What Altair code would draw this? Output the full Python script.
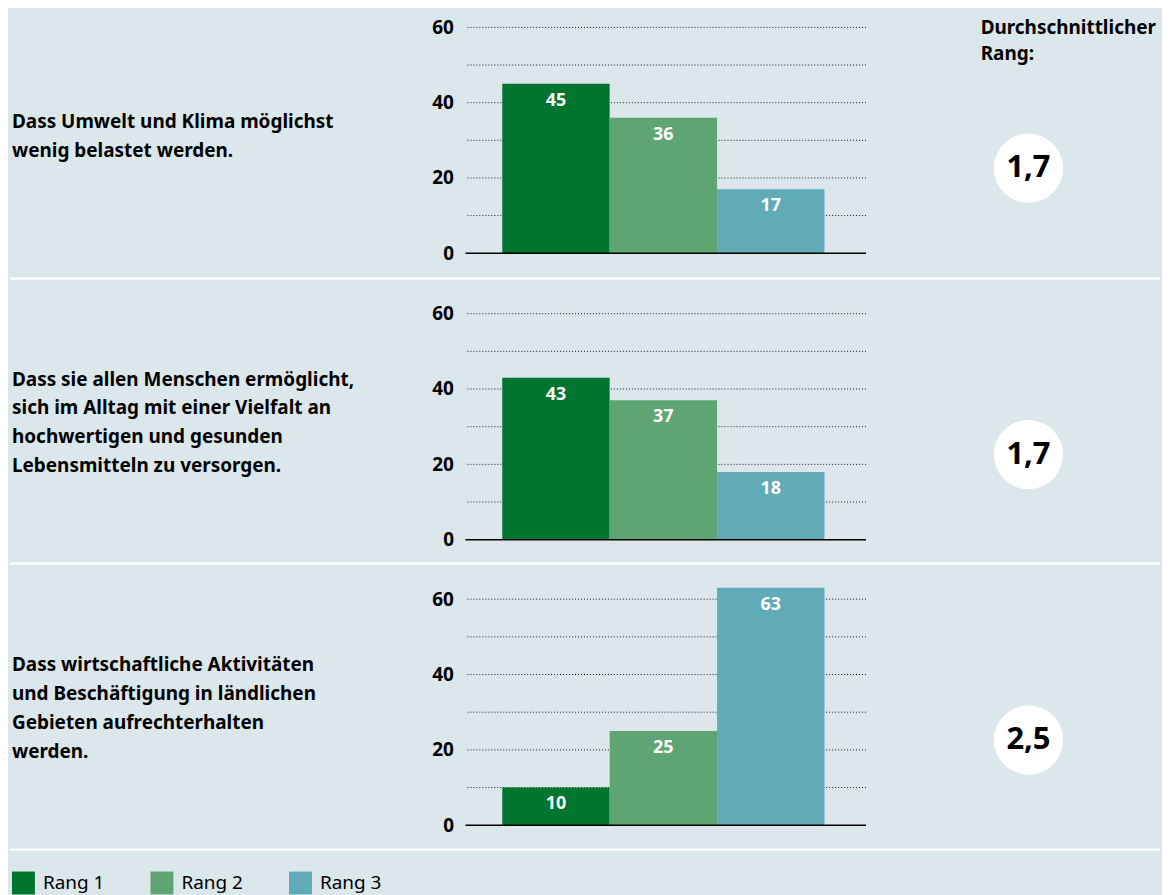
import altair as alt
import pandas as pd

ranks = ["Rang 1", "Rang 2", "Rang 3"]
rank_colors = ["#00752f", "#5fa574", "#61aab8"]
questions = [
    ["Dass Umwelt und Klima möglichst", "wenig belastet werden."],
    ["Dass sie allen Menschen ermöglicht,", "sich im Alltag mit einer Vielfalt an",
     "hochwertigen und gesunden", "Lebensmitteln zu versorgen."],
    ["Dass wirtschaftliche Aktivitäten", "und Beschäftigung in ländlichen",
     "Gebieten aufrechterhalten", "werden."],
]
values_q1 = [45, 36, 17]
values_q2 = [43, 37, 18]
values_q3 = [10, 25, 63]
avg_rank = ["1,7", "1,7", "2,5"]
header = ["Durchschnittlicher", "Rang:"]
y_labels = [0, 20, 40, 60]
grid_values = [10, 20, 30, 40, 50, 60]

BG = "#dbe7ea"
FONT = "Noto Sans"
PLOT_W = 402
PX_PER_UNIT = 3.78
LINE_H = 29

legend = alt.Legend(
    orient="none", legendX=-455, legendY=865, direction="horizontal", title=None,
    symbolType="square", symbolSize=529, symbolStrokeWidth=0, symbolOpacity=1,
    labelFontSize=19, labelOffset=8, columnPadding=46, labelColor="black",
    labelFont=FONT,
)

yaxis = alt.Axis(
    values=y_labels, title=None, ticks=False, domain=False, grid=False,
    labelFontSize=19, labelFontWeight="bold", labelColor="black",
    labelPadding=12, labelFont=FONT,
)


def row(i, vals, height, domain, with_header=False):
    df = pd.DataFrame({"rank": ranks, "value": vals})
    yscale = alt.Scale(domain=domain, nice=False, zero=False)
    xenc = alt.X("rank:N", scale=alt.Scale(domain=ranks, paddingInner=0, paddingOuter=0.365, align=0.47),
                 axis=None)

    def yf(field):
        return alt.Y(field, type="quantitative", scale=yscale, axis=yaxis, title=None)

    grid = alt.Chart(pd.DataFrame({"g": grid_values})).mark_rule(
        color="#1a1a1a", strokeWidth=1, strokeDash=[1, 2]
    ).encode(y=yf("g"))

    bars = alt.Chart(df).mark_bar().encode(
        x=xenc,
        y=yf("value"),
        y2=alt.Y2("base:Q"),
        color=alt.Color("rank:N", scale=alt.Scale(domain=ranks, range=rank_colors), legend=legend),
    ).transform_calculate(base="0")

    zero = alt.Chart(pd.DataFrame({"z": [0]})).mark_rule(color="black", strokeWidth=1.5).encode(
        y=yf("z")
    )

    labels = alt.Chart(df).mark_text(
        color="white", fontWeight="bold", fontSize=18, baseline="middle", dy=17, font=FONT
    ).encode(x=xenc, y=yf("value"), text="value:Q")

    n_lines = len(questions[i])
    q_y = 31 + (n_lines - 1) / 2 * LINE_H / PX_PER_UNIT
    question = alt.Chart(pd.DataFrame({"qy": [q_y]})).mark_text(
        align="left", baseline="middle", fontSize=19, fontWeight="bold", lineHeight=LINE_H,
        color="black", font=FONT
    ).encode(x=alt.value(-455), y=yf("qy"), text=alt.value(questions[i]))

    circ_df = pd.DataFrame({"cy": [22.6], "label": [avg_rank[i]]})
    circle = alt.Chart(circ_df).mark_circle(color="white", opacity=1, size=4840).encode(
        x=alt.value(565), y=yf("cy")
    )
    circle_text = alt.Chart(circ_df).mark_text(
        fontSize=31, fontWeight="bold", color="black", baseline="middle", font=FONT
    ).encode(x=alt.value(565), y=yf("cy"), text="label:N")

    sep = alt.Chart(pd.DataFrame({"k": [0]})).mark_rule(color="white", strokeWidth=2.5).encode(
        x=alt.value(-457), x2=alt.value(697), y=alt.value(height)
    )

    layers = [grid, bars, zero, labels, question, circle, circle_text, sep]
    if with_header:
        head = alt.Chart(pd.DataFrame({"hy": [59.9]})).mark_text(
            align="left", baseline="middle", fontSize=19, fontWeight="bold", lineHeight=26,
            color="black", font=FONT
        ).encode(x=alt.value(517), y=yf("hy"), text=alt.value(header))
        layers.append(head)
    return alt.layer(*layers).properties(width=PLOT_W, height=height)


r1 = row(0, values_q1, 270, [-6.75, 64.75], with_header=True)
r2 = row(1, values_q2, 286, [-6.35, 69.31])
r3 = row(2, values_q3, 287, [-6.48, 69.44])

chart = alt.vconcat(r1, r2, r3, spacing=0, bounds="flush").properties(
    padding=0, background=BG
).configure(font=FONT, view=alt.ViewConfig(stroke=None))

chart.save("out.html", embed_options={"renderer": "svg", "actions": False})
